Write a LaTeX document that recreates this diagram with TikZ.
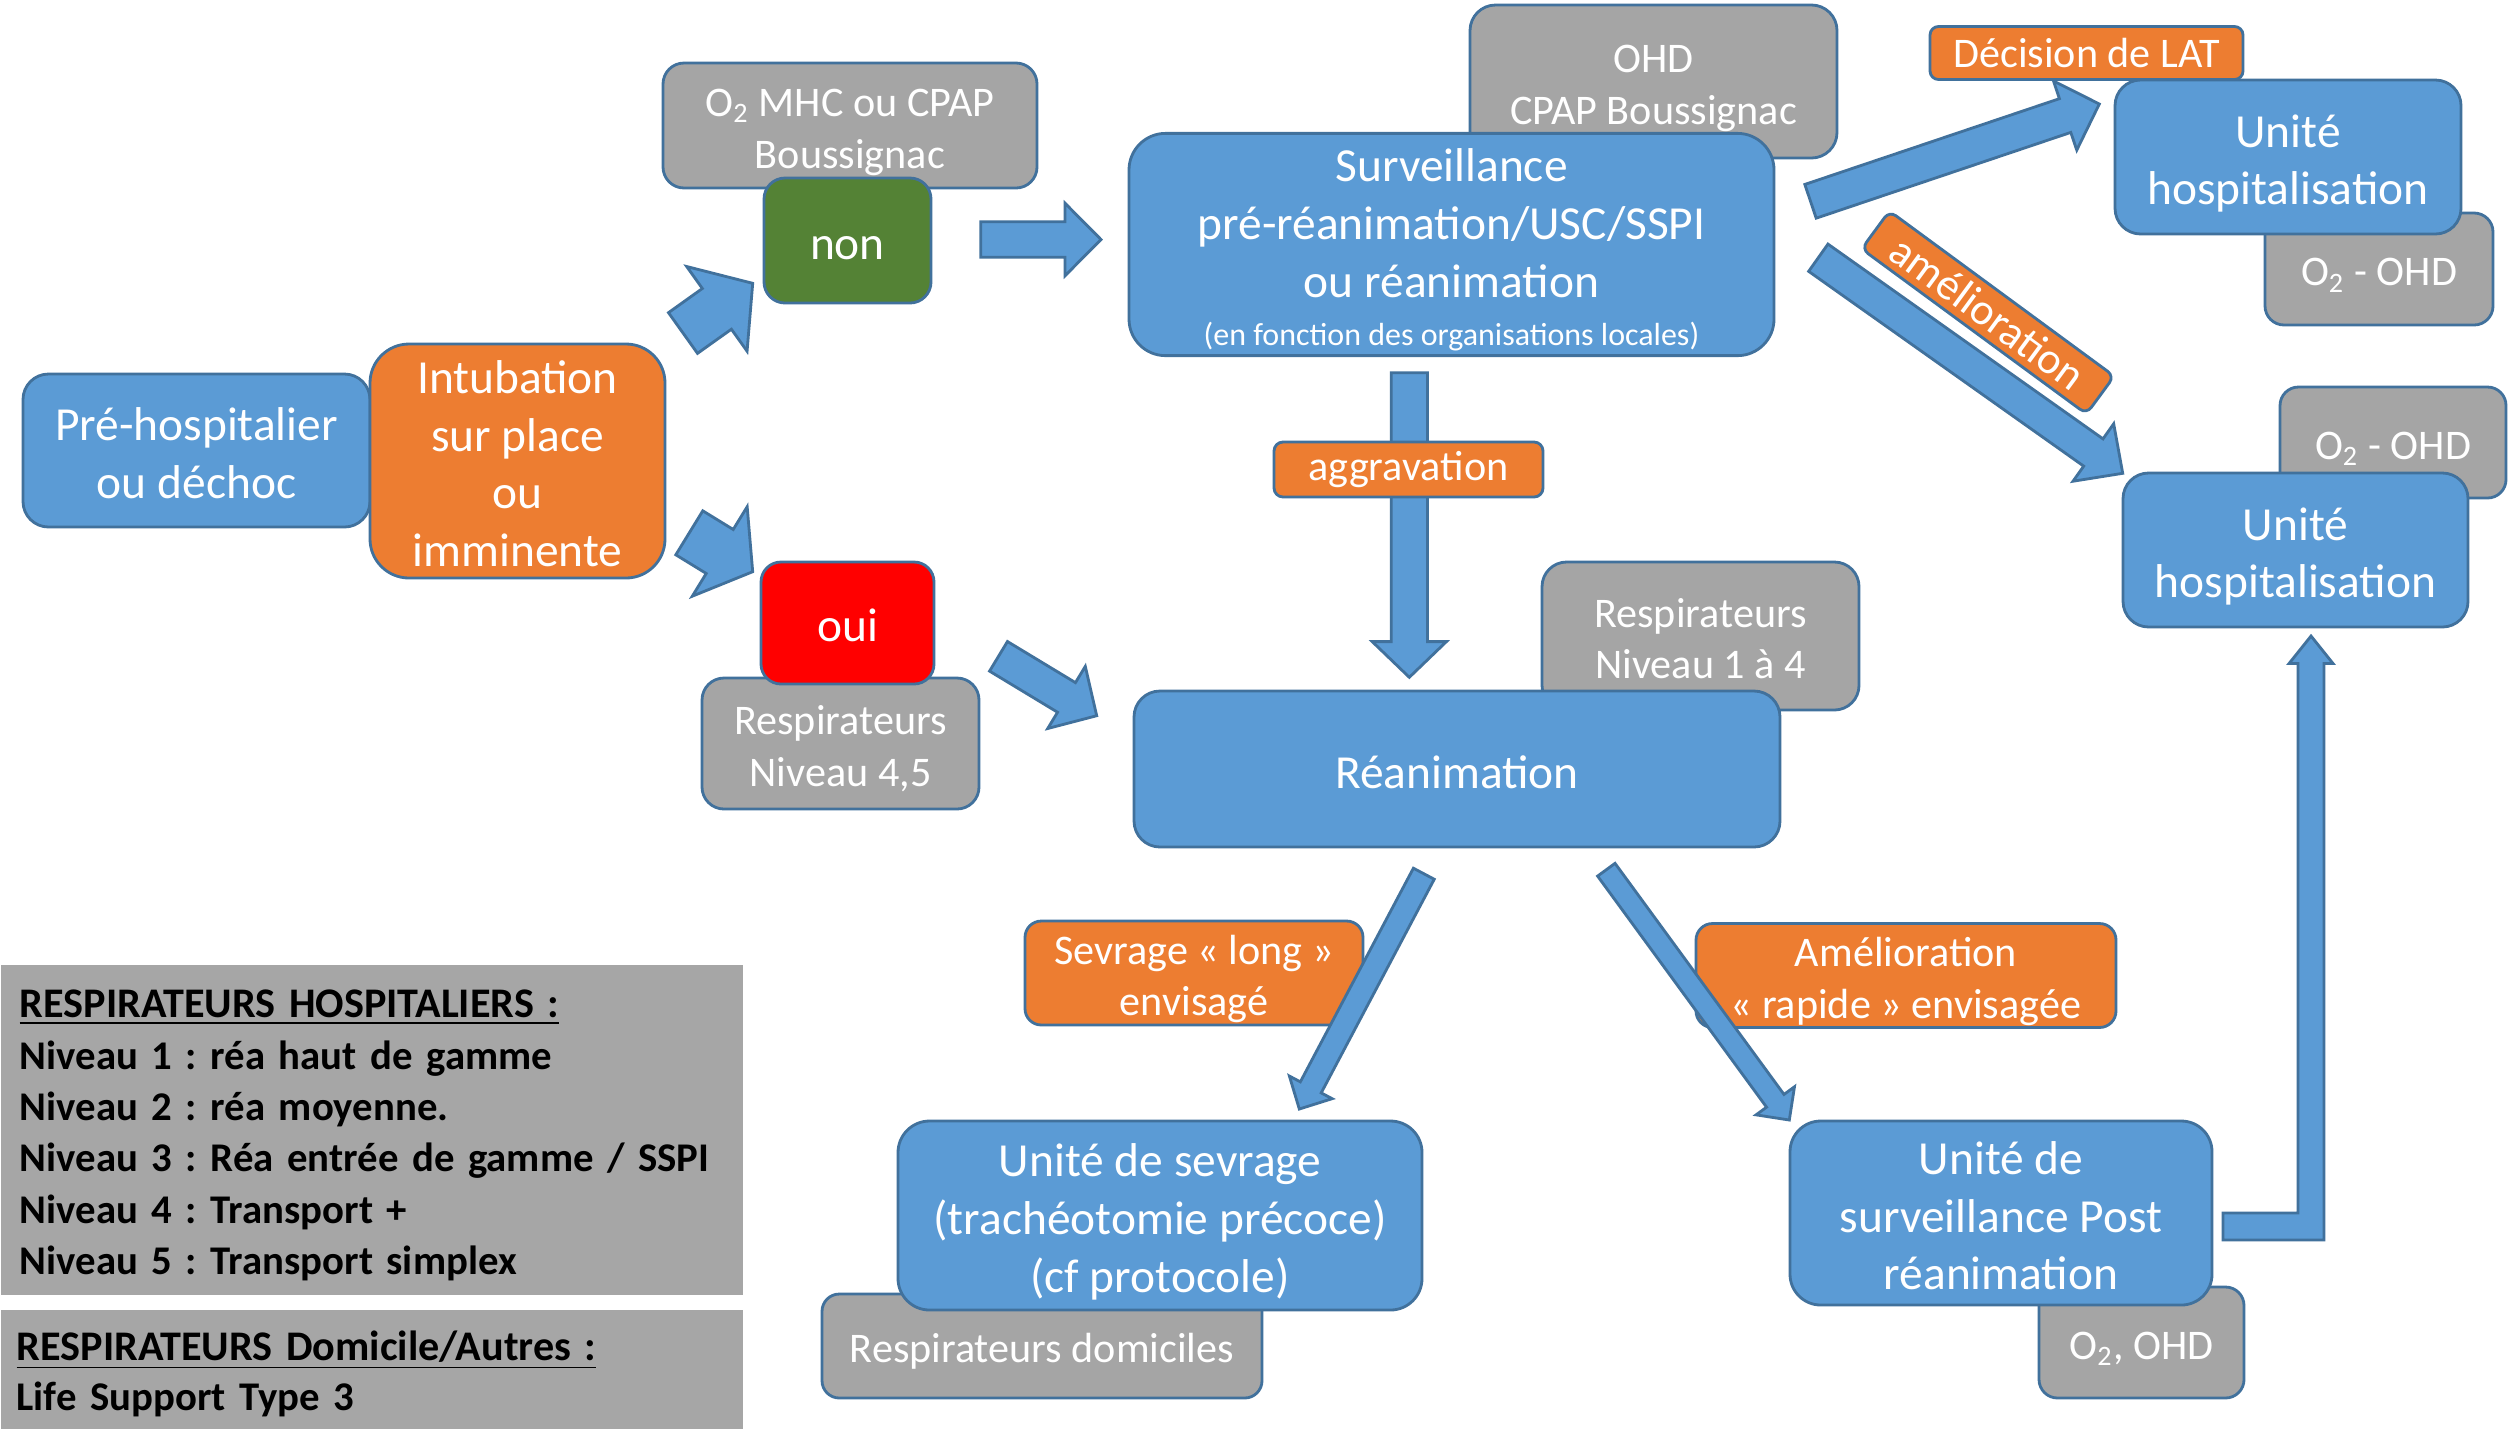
\documentclass[tikz,border=0pt]{standalone}
\usepackage{fontspec}
\setmainfont{Carlito}
\usetikzlibrary{calc}
\definecolor{myblue}{HTML}{5B9BD5}
\definecolor{bord}{HTML}{41719C}
\definecolor{myorange}{HTML}{ED7D31}
\definecolor{mygrey}{HTML}{A5A5A5}
\definecolor{mygreen}{HTML}{548235}
\definecolor{myred}{HTML}{FF0000}
\definecolor{leggrey}{HTML}{A6A6A6}
\newcommand{\tpstrut}{\rule{0pt}{1.02em}}
\newcommand{\btstrut}{\rule[-0.22em]{0pt}{0pt}}
% block arrow: #1 tail, #2 tip, #3 half shaft width, #4 half head width, #5 head length
\newcommand{\barrow}[5]{%
  \coordinate (bh) at ($(#2)!#5!(#1)$);
  \filldraw[blockarrow] ($(#1)!#3!90:(#2)$) -- ($(bh)!#3!-90:(#1)$) -- ($(bh)!#4!-90:(#1)$) -- (#2)
    -- ($(bh)!#4!90:(#1)$) -- ($(bh)!#3!90:(#1)$) -- ($(#1)!#3!-90:(#2)$) -- cycle;
}
\begin{document}
\begin{tikzpicture}[x=1cm,y=-1cm,
  box/.style={draw=bord, line width=0.8pt, inner sep=0pt, align=center, text=white},
  st/.style={execute at begin node=\tpstrut, execute at end node=\btstrut},
  bigtxt/.style={font=\fontsize{13.5}{16.4}\selectfont},
  smalltxt/.style={font=\fontsize{12}{14.7}\selectfont},
  bluebox/.style={box, st, bigtxt, fill=myblue},
  greybox/.style={box, st, smalltxt, fill=mygrey},
  orangebox/.style={box, smalltxt, fill=myorange},
  wh/.style 2 args={minimum width=#1cm, minimum height=#2cm},
  rc/.style={rounded corners=#1cm},
  blockarrow/.style={fill=myblue, draw=bord, line width=0.8pt, line join=miter},
  legend/.style={fill=leggrey, st, inner xsep=0.19cm, inner ysep=0pt, align=left, text=black,
    font=\frenchspacing\bfseries\fontsize{11.6}{14.6}\selectfont, anchor=north west, text width=7.04cm, minimum width=7.42cm}
]
\fill[white] (0,0) rectangle (25.09,14.28);
\useasboundingbox (0,0) rectangle (25.09,14.28);

% grey boxes (behind)
\node[greybox, wh={3.74}{1.25}, rc=0.21] (o2mhc) at (8.50,1.255) {\tpstrut O\textsubscript{2} MHC ou CPAP\\Boussignac};
\node[greybox, wh={3.67}{1.53}, rc=0.255] (ohd) at (16.535,0.815) {\tpstrut OHD\\CPAP Boussignac};
\node[greybox, wh={2.28}{1.12}, rc=0.19] (o2ohdA) at (23.79,2.69) {O\textsubscript{2} - OHD};
\node[greybox, wh={2.26}{1.11}, rc=0.185] (o2ohdB) at (23.93,4.425) {O\textsubscript{2} - OHD};
\node[greybox, wh={3.17}{1.48}, rc=0.246] (resp14) at (17.005,6.36) {\tpstrut Respirateurs\\Niveau 1 à 4};
\node[greybox, wh={2.77}{1.31}, rc=0.22] (resp45) at (8.405,7.435) {\tpstrut Respirateurs\\Niveau 4,5};
\node[greybox, wh={4.40}{1.04}, rc=0.173] (respdom) at (10.42,13.46) {Respirateurs domiciles};
\node[greybox, wh={2.05}{1.11}, rc=0.185] (o2ohdC) at (21.415,13.425) {O\textsubscript{2}, OHD};

% main boxes
\node[bluebox, wh={3.47}{1.53}, rc=0.255] (pre) at (1.965,4.505) {\tpstrut Pré-hospitalier\\ou déchoc};
\node[box, st, bigtxt, fill=myorange, wh={2.95}{2.34}, rc=0.39] (intub) at (5.175,4.61) {\tpstrut Intubation\\sur place\\ou\\imminente};
\node[box, st, bigtxt, fill=mygreen, wh={1.67}{1.25}, rc=0.21] (non) at (8.475,2.405) {non};
\node[box, st, bigtxt, fill=myred, wh={1.73}{1.22}, rc=0.2] (oui) at (8.475,6.23) {oui};
\node[bluebox, wh={6.45}{2.19}, rc=0.365] (surv) at (14.515,2.445)
  {\tpstrut Surveillance\\pré-réanimation/USC/SSPI\\ou réanimation\\[-2.7pt]{\fontsize{9.1}{11}\selectfont (en fonction des organisations locales)}};
\node[bluebox, wh={3.46}{1.54}, rc=0.256] (uhA) at (22.88,1.57) {\tpstrut Unité\\hospitalisation};
\node[bluebox, wh={3.45}{1.54}, rc=0.256] (uhB) at (22.955,5.50) {\tpstrut Unité\\hospitalisation};
\node[bluebox, wh={6.46}{1.56}, rc=0.26] (rea) at (14.57,7.69) {Réanimation};
\node[bluebox, wh={5.24}{1.89}, rc=0.315] (sevr) at (11.60,12.155) {\tpstrut Unité de sevrage\\(trachéotomie précoce)\\(cf protocole)};
\node[bluebox, wh={4.22}{1.84}, rc=0.307] (post) at (20.01,12.13) {\tpstrut Unité de\\surveillance Post\\réanimation};

% labels under arrows
\node[orangebox, st, wh={3.38}{0.98}, rc=0.163] (sevlab) at (11.94,9.73) {\tpstrut Sevrage « long »\\envisagé};
\node[orangebox, st, wh={4.20}{0.99}, rc=0.165] (amelab) at (19.06,9.755) {\tpstrut Amélioration\\« rapide » envisagée};

% arrow end points
\coordinate (a1s) at (6.83,3.33);    \coordinate (a1e) at (7.527,2.833);
\coordinate (a2s) at (6.893,5.328);  \coordinate (a2e) at (7.527,5.717);
\coordinate (a3s) at (9.807,2.395);  \coordinate (a3e) at (11.01,2.395);
\coordinate (a4s) at (9.985,6.563);  \coordinate (a4e) at (10.967,7.157);
\coordinate (a5s) at (18.105,2.013); \coordinate (a5e) at (20.993,1.04);
\coordinate (a6s) at (18.183,2.577); \coordinate (a6e) at (21.227,4.733);
\coordinate (a7s) at (14.093,3.727); \coordinate (a7e) at (14.093,6.773);
\coordinate (a8s) at (14.238,8.737); \coordinate (a8e) at (12.993,11.09);
\coordinate (a9s) at (16.063,8.697); \coordinate (a9e) at (17.893,11.20);

\barrow{a1s}{a1e}{0.25cm}{0.52cm}{0.44cm}
\barrow{a2s}{a2e}{0.258cm}{0.525cm}{0.387cm}
\barrow{a3s}{a3e}{0.178cm}{0.363cm}{0.36cm}
\barrow{a4s}{a4e}{0.173cm}{0.363cm}{0.353cm}
\barrow{a5s}{a5e}{0.178cm}{0.365cm}{0.361cm}
\barrow{a6s}{a6e}{0.167cm}{0.352cm}{0.36cm}
\barrow{a7s}{a7e}{0.181cm}{0.371cm}{0.357cm}
\barrow{a8s}{a8e}{0.118cm}{0.242cm}{0.245cm}
\barrow{a9s}{a9e}{0.108cm}{0.238cm}{0.238cm}

% elbow arrow post -> uhB
\coordinate (e0) at (22.23,12.265);
\coordinate (e1) at (23.11,6.36);
\coordinate (ec) at (e1 |- e0);
\filldraw[blockarrow] ($(e0)+(0,-0.135)$) -- ($(ec)+(-0.13,-0.135)$) -- ($(e1)+(-0.13,0.275)$)
  -- ($(e1)+(-0.22,0.275)$) -- (e1) -- ($(e1)+(0.22,0.275)$) -- ($(e1)+(0.13,0.275)$)
  -- ($(ec)+(0.13,0.135)$) -- ($(e0)+(0,0.135)$) -- cycle;

% labels on top
\node[orangebox, wh={2.69}{0.55}, rc=0.09] (aggr) at (14.085,4.695) {aggravation};
\node[orangebox, wh={3.13}{0.53}, rc=0.085] (dec) at (20.865,0.53) {Décision de LAT};
\node[orangebox, wh={2.79}{0.47}, rc=0.08, rotate=-36.3, font=\fontsize{12.6}{14}\selectfont] (amel) at (19.879,3.125) {amélioration};

% legends
\node[legend, minimum height=3.30cm] (legA) at (0,9.64)
  {\tpstrut{\fontsize{12}{14.6}\selectfont\underline{RESPIRATEURS HOSPITALIERS :}}\\Niveau 1 : réa haut de gamme\\Niveau 2 : réa moyenne.\\\mbox{Niveau 3 : Réa entrée de gamme / SSPI}\\Niveau 4 : Transport +\\Niveau 5 : Transport simplex};
\node[legend, inner xsep=0.16cm, text width=7.10cm, minimum height=1.19cm, font=\frenchspacing\bfseries\fontsize{11.6}{14.2}\selectfont] (legB) at (0,13.09)
  {\tpstrut{\fontsize{12}{14.2}\selectfont\underline{RESPIRATEURS Domicile/Autres :}}\\Life Support Type 3};
\end{tikzpicture}
\end{document}
